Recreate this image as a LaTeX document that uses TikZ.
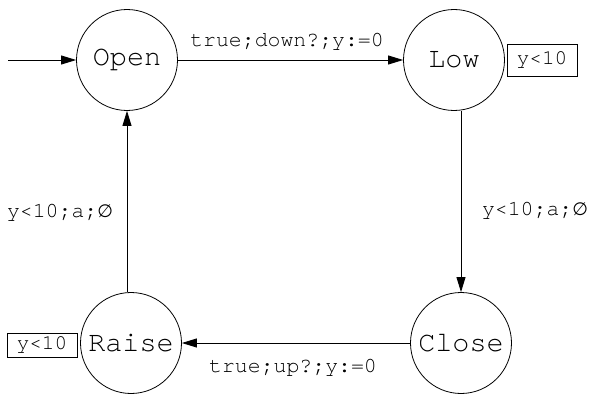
\documentclass[tikz,border=0pt]{standalone}
\usepackage{fontspec}
\setmonofont{TeX Gyre Cursor}
\newfontfamily\symfont{DejaVu Sans}
\usetikzlibrary{arrows.meta}
\tikzset{
  state/.style={circle,draw,line width=0.8pt,minimum size=101pt,inner sep=0pt,font=\ttfamily\fontsize{28.5}{30}\selectfont},
  lbl/.style={inner sep=0pt,font=\ttfamily\fontsize{21.5}{23}\selectfont},
  inv/.style={draw,line width=0.8pt,minimum width=70pt,inner sep=0pt,font=\ttfamily\fontsize{21}{23}\selectfont},
  edge/.style={line width=0.8pt,-{Triangle[length=15pt,width=9pt]}}
}
\begin{document}
\begin{tikzpicture}[x=1pt,y=-1pt]
\useasboundingbox (0,0) rectangle (592,396);
\node[state] (open) at (127,60) {Open};
\node[state] (low) at (454,60) {Low};
\node[state] (close) at (461,343) {Close};
\node[state] (raise) at (131,343) {Raise};
\coordinate (init) at (8,60);
\node[inv,minimum height=32pt] (invlow) at (542,60) {y<10};
\node[inv,minimum height=24pt] (invraise) at (42,345) {y<10};
\draw[edge] (init) -- (open);
\draw[edge] (open) -- (low);
\draw[edge] (low.south -| close.north) -- (close.north);
\draw[edge] (close) -- (raise);
\draw[edge] (raise.north -| open.south) -- (open.south);
\node[lbl] (l1) at (287,42) {true;down?;y:=0};
\node[lbl] (l2) at (535,211) {y<10;a;{\symfont\fontsize{18}{20}\selectfont ∅}};
\node[lbl] (l3) at (293,368) {true;up?;y:=0};
\node[lbl] (l4) at (60,213) {y<10;a;{\symfont\fontsize{18}{20}\selectfont ∅}};
\end{tikzpicture}
\end{document}
